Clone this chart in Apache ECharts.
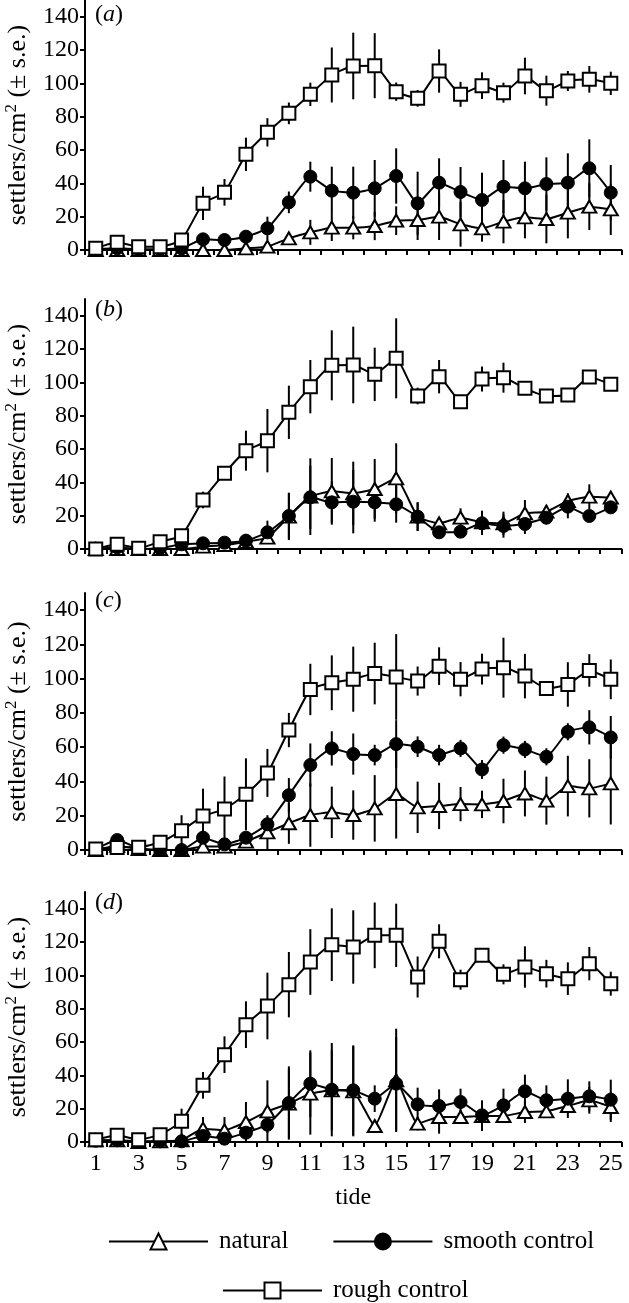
<!DOCTYPE html>
<html><head><meta charset="utf-8">
<script src="https://cdn.jsdelivr.net/npm/echarts@6/dist/echarts.min.js"></script>
<style>html,body{margin:0;padding:0;background:#fff}#c{width:629px;height:1303px}</style>
</head><body><div id="c"></div>
<script>
const tides = ['1','2','3','4','5','6','7','8','9','10','11','12','13','14','15','16','17','18','19','20','21','22','23','24','25'];
const yTicks = [0,20,40,60,80,100,120,140];

// panel (a)
const natA    = [0,0,0,0,0,0,0,1,2,7,10.6,13.4,13.4,14.4,17.6,18,20,15.4,13,17,19.6,18.6,22.4,26,24.4];
const natASe  = [0,0,0,0,0,0,0,1,1,3.5,7.5,8,7,8.5,8.6,12,14,13.4,8,13,12.6,14.6,15.4,14,15.4];
const smoA    = [0.4,1,0.5,0.5,1,6.4,6,8,13,28.6,44,35.6,34.4,37,44.4,28,40.4,34.8,30,38,37,39.6,40.4,49,34.4];
const smoASe  = [0,0,0,0,0,0,0,2,7,6.5,9,14.4,15.6,17,16.6,19,14.6,15,16.4,16,16,16,17.6,17.4,16.6];
const rouA    = [1,4.6,2,2,6,28,34.6,57.4,70.6,82,93.4,105,110.4,110.6,95,91,107.4,93.4,98.6,94.4,104.4,95.6,101.4,102.4,100];
const rouASe  = [0,0,0,0,0,10,8,10,8.5,6.5,7,16.5,20,19.5,5.5,5,13,7.5,8,6,11,9,6,8,7];

// panel (b)
const natB    = [0,0,0,0,0,1.4,2.4,4.4,6.8,19.4,31.4,34.6,33.4,36,42.4,19.4,15.4,18.8,16,15.4,21.4,22.4,28.8,31.4,30.8];
const natBSe  = [0,0,0,0,0,0,0,1,3,14,23,20,19,18,21,8.6,3,5.6,7,7,8,4,4.6,7.4,3.6];
const smoB    = [0,1,0,0.5,2.8,3.4,3.8,5,10,19.8,31,28,28.4,28,26.8,19.4,10,10.4,15.4,13.8,15,18.8,25.4,19.8,25];
const smoBSe  = [0,0,0,0,0,0,0,2,7,14,19,12.6,19,11.6,11,8.6,3,2,7,7,6,4,7,3,3];
const rouB    = [0,2.8,0.4,4.4,8,29.4,45.4,59,65,82,97.4,110.2,110.4,104.8,114.4,91.8,103.4,88.4,102,102.8,96.4,91.8,92.4,103.2,98.8];
const rouBSe  = [0,0,0,0,0,5,3,12,19,16,16,21,23,16,24,5,10,3.5,7.5,9,2,2,2,2,3];

// panel (c)
const natC    = [0,2.5,0.6,0,0,2,2,4.9,10.3,15.6,20.4,22,20.4,24.3,32.7,24.9,25.7,26.8,26.6,28.6,33,28.8,37.3,36,38.9];
const natCSe  = [0,0,0,0,0,0,0,1,10,12,18.5,15,14.4,19.4,26,15,13.5,10,8,13,13.4,14,17.7,17,24];
const smoC    = [0.5,5.8,1,0,0,7.2,3.3,7.2,15,32,49.6,59.3,56,55.4,61.8,60.3,55.4,59.3,47,61.2,58.7,54.4,69,71.6,65.7];
const smoCSe  = [0,0,0,0,0,0,0,2,4,10,12.6,10,12,6,14,6,6,5,5.5,5,5,5,5,10,12.5];
const rouC    = [0.6,1.5,1.6,4.5,11.3,19.8,23.9,32.5,45,70,93.7,97.6,99.7,103,101,98.6,107.3,99.7,105.6,106.4,101.5,94.3,96.6,104.8,99.6];
const rouCSe  = [0,0,0,0,9,16,19,21,14,10,15,16,19,18,25,8.5,11,10,9,17.5,13,2,13,9.5,11.6];

// panel (d)
const natD    = [1,1,0,0.4,1,8,7,12,18.4,23,29,31,30.4,9.6,37,11,15,15,15.6,15.6,18,18.4,21.6,25,21];
const natDSe  = [0,0,0,0,0,7,8,12,18.6,21,24.6,24,27,3,31,4,10,4,9,4,6.6,4,2,8,9];
const smoD    = [0.8,1,0.4,0.4,0.4,3.6,2,5.6,10.4,23.4,35,31.4,31,26,35,22.6,21.6,24,16,22,30.4,25,26,27.4,25.4];
const smoDSe  = [0,0,0,0,0,0,0,2,5,22,20,28,27,8,28,10,10,8,9,10,10,9,11.6,9,12];
const rouD    = [1.4,4,1.4,4.4,12.4,34,52.4,70.4,81.6,94.4,108,118.4,117,124,124,99,120.4,97.4,112,100.6,105,101,98,107,95];
const rouDSe  = [0,0,0,0,7.6,8,11,14,20,19.6,19.7,21.8,22,19.7,19,12.3,10.2,6,4,6,12.4,8.3,9.8,10,7.2];

const seriesNames = ['natural','smooth control','rough control'];
const panelLetters = ['a','b','c','d'];
const yTitle = 'settlers/cm{sup|2} (± s.e.)';
const xTitle = 'tide';

const FONT = '"Liberation Serif","Times New Roman",serif';

const panels = [
  {top:0,   height:250, nat:natA, natSe:natASe, smo:smoA, smoSe:smoASe, rou:rouA, rouSe:rouASe, labelY:3},
  {top:299, height:250, nat:natB, natSe:natBSe, smo:smoB, smoSe:smoBSe, rou:rouB, rouSe:rouBSe, labelY:298},
  {top:593, height:257, nat:natC, natSe:natCSe, smo:smoC, smoSe:smoCSe, rou:rouC, rouSe:rouCSe, labelY:589},
  {top:892, height:250, nat:natD, natSe:natDSe, smo:smoD, smoSe:smoDSe, rou:rouD, rouSe:rouDSe, labelY:891}
];

const grids = [], xAxes = [], yAxes = [], series = [], graphics = [];

panels.forEach((p, i) => {
  grids.push({left: 85, width: 536.5, top: p.top, height: p.height, outerBoundsMode: 'none', containLabel: false});
  xAxes.push({
    type: 'category', gridIndex: i, data: tides, boundaryGap: true,
    axisLine: {onZero: false, lineStyle: {color: '#000', width: 2}},
    axisTick: {show: true, interval: 0, length: 5, lineStyle: {color: '#000', width: 2}},
    axisLabel: {show: i === 3, interval: 1, color: '#000', fontFamily: FONT, fontSize: 24, margin: 10},
    splitLine: {show: false},
    name: i === 3 ? xTitle : '', nameLocation: 'middle', nameGap: 44,
    nameTextStyle: {color: '#000', fontFamily: FONT, fontSize: 24}
  });
  yAxes.push({
    type: 'value', gridIndex: i, min: 0, max: 150,
    axisLine: {show: true, lineStyle: {color: '#000', width: 2}},
    axisTick: {show: true, length: 5, customValues: yTicks, lineStyle: {color: '#000', width: 2}},
    axisLabel: {color: '#000', fontFamily: FONT, fontSize: 24, margin: 6, customValues: yTicks},
    splitLine: {show: false},
    name: yTitle, nameLocation: 'middle', nameRotate: 90, nameGap: 52,
    nameTextStyle: {color: '#000', fontFamily: FONT, fontSize: 26,
      rich: {sup: {fontFamily: FONT, fontSize: 17, color: '#000', verticalAlign: 'top', lineHeight: 30}}}
  });

  const err = [];
  [[p.nat, p.natSe], [p.smo, p.smoSe], [p.rou, p.rouSe]].forEach(([m, s]) => {
    m.forEach((v, k) => { if (s[k] > 0) err.push([k, v, s[k]]); });
  });
  series.push({
    type: 'custom', xAxisIndex: i, yAxisIndex: i, z: 1, silent: true,
    data: err, encode: {x: 0, y: 1},
    renderItem: (params, api) => {
      const x = api.value(0), m = api.value(1), s = api.value(2);
      const a = api.coord([x, Math.max(0, m - s)]);
      const b = api.coord([x, m + s]);
      return {type: 'line', shape: {x1: a[0], y1: a[1], x2: b[0], y2: b[1]},
              style: {stroke: '#000', lineWidth: 2}};
    }
  });

  const common = {type: 'line', xAxisIndex: i, yAxisIndex: i, showAllSymbol: true, smooth: 0.15,
                  lineStyle: {color: '#000', width: 2}, animation: false};
  series.push(Object.assign({}, common, {name: seriesNames[0], data: p.nat, symbol: 'triangle', symbolSize: [14, 12],
    itemStyle: {color: '#fff', borderColor: '#000', borderWidth: 2}, z: 3}));
  series.push(Object.assign({}, common, {name: seriesNames[1], data: p.smo, symbol: 'circle', symbolSize: 13,
    itemStyle: {color: '#000', borderColor: '#000', borderWidth: 1}, z: 4}));
  series.push(Object.assign({}, common, {name: seriesNames[2], data: p.rou, symbol: 'rect', symbolSize: 13,
    itemStyle: {color: '#fff', borderColor: '#000', borderWidth: 2}, z: 5}));

  graphics.push({type: 'text', left: 95, top: p.labelY,
    style: {text: '({i|' + panelLetters[i] + '})', fill: '#000', fontFamily: FONT, fontSize: 24,
            rich: {i: {fontStyle: 'italic', fontFamily: FONT, fontSize: 24, fill: '#000'}}}});
});

const legendText = {fontFamily: FONT, fontSize: 25, color: '#000', padding: [0, 0, 0, 6]};
const chart = echarts.init(document.getElementById('c'), null, {renderer: 'canvas'});
chart.setOption({
  backgroundColor: '#fff',
  animation: false,
  grid: grids, xAxis: xAxes, yAxis: yAxes, series: series, graphic: graphics,
  legend: [
    {data: [seriesNames[0], seriesNames[1]], left: 103, top: 1224, itemWidth: 99, itemHeight: 20, itemGap: 44,
     selectedMode: false, textStyle: legendText},
    {data: [seriesNames[2]], left: 217, top: 1273, itemWidth: 99, itemHeight: 20,
     selectedMode: false, textStyle: legendText}
  ]
});
</script></body></html>
